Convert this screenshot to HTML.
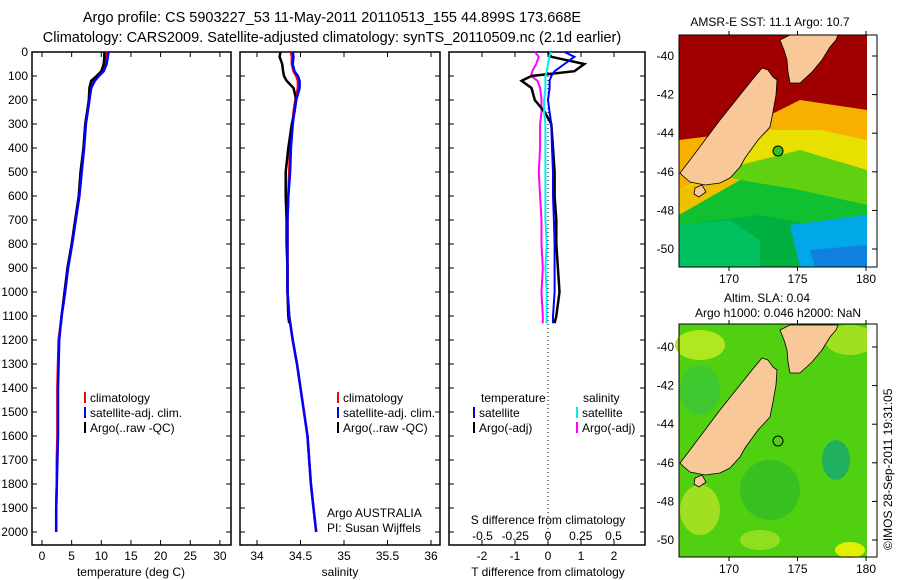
<!DOCTYPE html>
<html><head><meta charset="utf-8"><style>
body{margin:0;background:#fff}
svg{display:block;font-family:"Liberation Sans",sans-serif;font-size:12px}
</style></head><body>
<svg id="chart" width="900" height="580" viewBox="0 0 900 580">
<g>
<text x="332" y="22" text-anchor="middle" style="font-size:14.5px">Argo profile: CS 5903227_53 11-May-2011 20110513_155 44.899S 173.668E</text>
<text x="332" y="42" text-anchor="middle" style="font-size:14.5px">Climatology: CARS2009. Satellite-adjusted climatology: synTS_20110509.nc (2.1d earlier)</text>
</g>
<g id="p1"></g>
<g id="p2"></g>
<g id="p3"></g>

<g>
<text x="770" y="26" text-anchor="middle">AMSR-E SST: 11.1 Argo: 10.7</text>
<rect x="679" y="35" width="188" height="232" fill="#00b040"/>
<polygon points="679,35 867,35 867,235 760,215 679,225" fill="#10c030"/>
<polygon points="679,35 867,35 867,205 800,190 740,180 700,180 679,200" fill="#60d010"/>
<polygon points="679,35 867,35 867,170 800,150 740,165 700,195 679,205" fill="#e8e000"/>
<polygon points="679,35 867,35 867,140 820,130 770,130 720,170 679,190" fill="#f8b000"/>
<polygon points="679,35 867,35 867,110 800,100 760,120 720,135 679,140" fill="#a00000"/>
<polygon points="679,190 720,175 740,180 679,215" fill="#f0c000"/>
<polygon points="790,225 867,215 867,267 800,267" fill="#00a8e8"/>
<polygon points="810,250 867,245 867,267 815,267" fill="#1080e0"/>
<polygon points="679,225 730,220 760,240 760,267 679,267" fill="#00c060"/>
<g id="land1"></g>
<circle cx="778" cy="151" r="5" fill="#30c020" stroke="#000"/>
<rect x="867" y="35" width="10" height="232" fill="#fff"/>
<rect x="679" y="35" width="198" height="232" fill="none" stroke="#000"/>
<g id="ax1"></g>
</g>

<g>
<text x="767" y="302" text-anchor="middle">Altim. SLA: 0.04</text>
<text x="778" y="317" text-anchor="middle">Argo h1000: 0.046 h2000: NaN</text>
<rect x="679" y="324" width="188" height="233" fill="#50d010"/>
<ellipse cx="700" cy="345" rx="25" ry="15" fill="#b0e820"/>
<ellipse cx="700" cy="390" rx="20" ry="25" fill="#40c830"/>
<ellipse cx="850" cy="340" rx="25" ry="15" fill="#a0e020"/>
<ellipse cx="836" cy="460" rx="14" ry="20" fill="#20b060"/>
<ellipse cx="770" cy="490" rx="30" ry="30" fill="#38c020"/>
<ellipse cx="700" cy="510" rx="20" ry="25" fill="#a0e020"/>
<ellipse cx="850" cy="550" rx="15" ry="8" fill="#e0f000"/>
<ellipse cx="760" cy="540" rx="20" ry="10" fill="#90e020"/>
<g id="land2"></g>
<circle cx="778" cy="441" r="5" fill="none" stroke="#000"/>
<rect x="867" y="324" width="10" height="233" fill="#fff"/>
<rect x="679" y="324" width="198" height="233" fill="none" stroke="#000"/>
<g id="ax2"></g>
</g>
<text transform="translate(892,550) rotate(-90)">©IMOS 28-Sep-2011 19:31:05</text>
</svg>
<script>
const NS="http://www.w3.org/2000/svg";
const depthTicks=[0,100,200,300,400,500,600,700,800,900,1000,1100,1200,1300,1400,1500,1600,1700,1800,1900,2000];
const tempTicks=[0,5,10,15,20,25,30];
const salTicks=[34,34.5,35,35.5,36];
const tdiffTicks=[-2,-1,0,1,2];
const sdiffTicks=[-0.5,-0.25,0,0.25,0.5];
const sdiffLabels=["-0.5","-0.25","0","0.25","0.5"];
const profDepth=[0,20,50,80,100,120,150,200,250,300,400,500,600,700,800,900,1000,1100,1200,1300,1400,1500,1600,1700,1800,1900,2000];
const tempClim=[10.9,10.8,10.6,10.1,9.4,8.7,8.2,8.0,7.6,7.3,7.0,6.6,6.2,5.6,5.0,4.3,3.9,3.3,2.8,2.7,2.6,2.6,2.6,2.5,2.5,2.4,2.4];
const tempSat=[11.2,11.1,10.9,10.4,9.6,8.9,8.3,8.0,7.7,7.4,7.1,6.7,6.3,5.7,5.1,4.4,3.9,3.3,2.9,2.8,2.7,2.7,2.7,2.6,2.5,2.4,2.4];
const argoDepth=[0,20,50,80,100,120,150,200,250,300,400,500,600,700,800,900,1000,1100,1130];
const tempArgo=[10.5,10.5,10.4,10.0,9.2,8.3,8.0,7.9,7.6,7.3,7.0,6.5,6.2,5.6,5.0,4.3,3.8,3.3,3.2];
const salClim=[34.39,34.40,34.40,34.42,34.45,34.47,34.47,34.44,34.42,34.41,34.38,34.37,34.36,34.35,34.35,34.35,34.35,34.37,34.41,34.46,34.50,34.54,34.58,34.60,34.62,34.65,34.68];
const salSat=[34.41,34.42,34.41,34.43,34.47,34.49,34.49,34.45,34.43,34.41,34.39,34.38,34.36,34.35,34.35,34.35,34.35,34.37,34.41,34.46,34.50,34.54,34.58,34.60,34.62,34.65,34.68];
const salArgo=[34.27,34.26,34.29,34.30,34.31,34.34,34.42,34.45,34.43,34.40,34.36,34.33,34.33,34.34,34.34,34.35,34.35,34.36,34.37];
const tdSat=[0.5,0.8,0.5,0.2,0.1,0.05,0.05,0.0,0.05,0.1,0.12,0.15,0.15,0.18,0.2,0.2,0.2,0.15,0.15];
const tdArgo=[0.0,0.1,1.1,0.8,-0.5,-0.8,-0.5,-0.4,-0.1,0.1,0.15,0.2,0.2,0.25,0.25,0.3,0.35,0.25,0.2];
const sdSat=[0.02,0.01,0.0,-0.01,-0.02,-0.02,-0.02,-0.03,-0.03,-0.02,-0.02,-0.02,-0.02,-0.02,-0.01,-0.02,-0.01,-0.01,-0.01];
const sdArgo=[-0.1,-0.07,-0.09,-0.12,-0.13,-0.08,-0.06,-0.05,-0.05,-0.06,-0.06,-0.07,-0.06,-0.05,-0.05,-0.04,-0.05,-0.04,-0.04];
const lonTicks=[170,175,180];
const latTicks=[-40,-42,-44,-46,-48,-50];

const yD=d=>52+d*0.24;
function mk(tag,attrs,parent,txt){const e=document.createElementNS(NS,tag);for(const k in attrs)e.setAttribute(k,attrs[k]);if(txt!==undefined)e.textContent=txt;parent.appendChild(e);return e;}
function line(p,pts,color,name,w){const e=mk('polyline',{points:pts.map(q=>q[0].toFixed(1)+','+q[1].toFixed(1)).join(' '),fill:'none',stroke:color,'stroke-width':w||2.5},p);

}
function panel(g,x0,x1,xs,ticks,labels,depthLabels){
  mk('rect',{x:x0,y:52,width:x1-x0,height:493,fill:'none',stroke:'#000','stroke-width':1.5},g);
  depthTicks.forEach(d=>{const y=yD(d);mk('line',{x1:x0,x2:x0+5,y1:y,y2:y,stroke:'#000'},g);mk('line',{x1:x1-5,x2:x1,y1:y,y2:y,stroke:'#000'},g);
    if(depthLabels){const t=mk('text',{x:x0-4,y:y+4,'text-anchor':'end'},g,String(d));
      
      }});
  ticks.forEach((v,i)=>{const x=xs(v);mk('line',{x1:x,x2:x,y1:52,y2:57,stroke:'#000'},g);mk('line',{x1:x,x2:x,y1:540,y2:545,stroke:'#000'},g);
    if(labels){const t=mk('text',{x:x,y:560,'text-anchor':'middle'},g,labels[i]);
      
      }});
}
function legend(g,x,y,items){items.forEach((it,i)=>{mk('rect',{x:x,y:y+i*15-10,width:2,height:11,fill:it[1]},g);const t=mk('text',{x:x+6,y:y+i*15},g,it[0]);
  
  });}

// Panel 1
const p1=document.getElementById('p1');const xT=v=>42+v*5.93;
panel(p1,32,231,xT,tempTicks,tempTicks.map(String),true);
line(p1,profDepth.map((d,i)=>[xT(tempClim[i]),yD(d)]),'#f00','temp-climatology-line');
line(p1,argoDepth.map((d,i)=>[xT(tempArgo[i]),yD(d)]),'#000','temp-argo-line');
line(p1,profDepth.map((d,i)=>[xT(tempSat[i]),yD(d)]),'#00f','temp-satellite-line');
legend(p1,84,402,[['climatology','#f00'],['satellite-adj. clim.','#00f'],['Argo(..raw -QC)','#000']]);
mk('text',{x:131,y:576,'text-anchor':'middle',},p1,'temperature (deg C)');

// Panel 2
const p2=document.getElementById('p2');const xS=v=>257+(v-34)*87;
panel(p2,240,440,xS,salTicks,['34','34.5','35','35.5','36'],false);
line(p2,profDepth.map((d,i)=>[xS(salClim[i]),yD(d)]),'#f00','salinity-climatology-line');
line(p2,argoDepth.map((d,i)=>[xS(salArgo[i]),yD(d)]),'#000','salinity-argo-line');
line(p2,profDepth.map((d,i)=>[xS(salSat[i]),yD(d)]),'#00f','salinity-satellite-line');
legend(p2,337,402,[['climatology','#f00'],['satellite-adj. clim.','#00f'],['Argo(..raw -QC)','#000']]);
mk('text',{x:327,y:517,},p2,'Argo AUSTRALIA');
mk('text',{x:327,y:532,},p2,'PI: Susan Wijffels');
mk('text',{x:340,y:576,'text-anchor':'middle',},p2,'salinity');

// Panel 3
const p3=document.getElementById('p3');const xTd=v=>548+v*33;const xSd=v=>548+v*131;
panel(p3,449,645,xTd,tdiffTicks,tdiffTicks.map(String),false);
mk('line',{x1:548,x2:548,y1:52,y2:545,stroke:'#000','stroke-dasharray':'1,3'},p3);
line(p3,argoDepth.map((d,i)=>[xSd(sdArgo[i]),yD(d)]),'#f0f','sdiff-argo-line',2);
line(p3,argoDepth.map((d,i)=>[xTd(tdArgo[i]),yD(d)]),'#000','tdiff-argo-line',2.5);
line(p3,argoDepth.map((d,i)=>[xTd(tdSat[i]),yD(d)]),'#00f','tdiff-satellite-line',2);
line(p3,argoDepth.map((d,i)=>[xSd(sdSat[i]),yD(d)]),'#0ee','sdiff-satellite-line',2);
mk('text',{x:481,y:402,},p3,'temperature');
mk('text',{x:583,y:402,},p3,'salinity');
legend(p3,473,417,[['satellite','#00f'],['Argo(-adj)','#000']]);
legend(p3,576,417,[['satellite','#0ee'],['Argo(-adj)','#f0f']]);
mk('text',{x:548,y:524,'text-anchor':'middle',},p3,'S difference from climatology');
sdiffTicks.forEach((v,i)=>{const t=mk('text',{x:xSd(v),y:540,'text-anchor':'middle'},p3,sdiffLabels[i]);
  
  });
mk('text',{x:548,y:576,'text-anchor':'middle',},p3,'T difference from climatology');

// Maps
const south="680,173 690,160 705,140 720,120 740,95 752,80 762,68 768,70 773,77 777,80 776,95 773,112 770,127 758,140 745,158 740,167 730,178 720,183 705,185 690,182 683,176";
const north="780,40 790,35 838,35 836,40 830,47 822,60 812,72 800,83 790,83 788,72 787,60 784,50";
const stewart="695,188 702,185 706,192 699,197 694,194";
function land(id,dy){const g=document.getElementById(id);[south,north,stewart].forEach(p=>{
  const pts=p.split(' ').map(s=>{const a=s.split(',');return a[0]+','+(+a[1]+dy);}).join(' ');
  mk('polygon',{points:pts,fill:'#f9c898',stroke:'#000','stroke-width':0.8},g);});}
land('land1',0);land('land2',290);
function mapAxes(id,top,bot,lat40){const g=document.getElementById(id);
  lonTicks.forEach(l=>{const x=729+(l-170)*13.7;mk('line',{x1:x,x2:x,y1:top-4,y2:top,stroke:'#000'},g);mk('line',{x1:x,x2:x,y1:bot,y2:bot+4,stroke:'#000'},g);
    const t=mk('text',{x:x,y:bot+16,'text-anchor':'middle'},g,String(l));
    
    });
  latTicks.forEach(l=>{const y=lat40+(-40-l)*19.3;mk('line',{x1:872,x2:877,y1:y,y2:y,stroke:'#000'},g);
    const t=mk('text',{x:674,y:y+4,'text-anchor':'end'},g,String(l));
    
    });}
mapAxes('ax1',35,267,56);mapAxes('ax2',324,557,347);
</script>
</body></html>
